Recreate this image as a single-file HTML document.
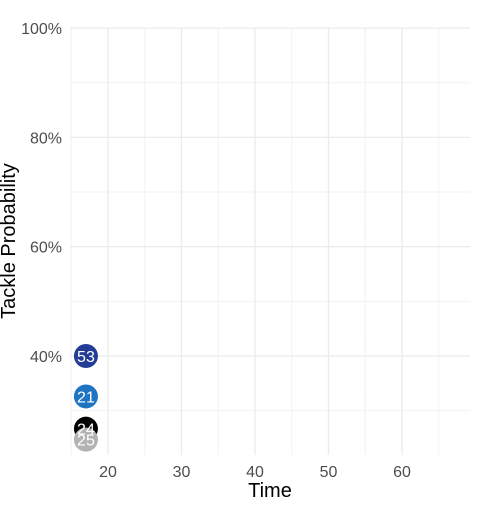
<!DOCTYPE html>
<html><head><meta charset="utf-8"><style>
body{margin:0;background:#fff;font-family:"Liberation Sans",sans-serif}
</style></head><body>
<svg id="c" width="500" height="500" xmlns="http://www.w3.org/2000/svg" font-family="Liberation Sans, sans-serif"></svg>
<script>
const players=["24","25","21","53"];
const times=[17,17,17,17];
const probs=[26.7,24.7,32.6,40];
const colors=["#000000","#b3b3b3","#1f74c1","#233d96"];
const xTicks=[20,30,40,50,60];
const yTicks=[40,60,80,100];
const yLabels=["40%","60%","80%","100%"];
const markerTime=55;
const NS="http://www.w3.org/2000/svg";
const svg=document.getElementById('c');
const L=70,R=470,T=28,B=455;
const xs=v=>108+(v-20)*7.35;
const ys=v=>356-(v-40)*5.465;
function el(t,a,p){const e=document.createElementNS(NS,t);for(const k in a)e.setAttribute(k,a[k]);(p||svg).appendChild(e);return e;}
const grid=el('g',{});


for(let v=15;v<=65;v+=10){el('line',{x1:xs(v),x2:xs(v),y1:T,y2:B,stroke:'#f2f2f2','stroke-width':1},grid);}
for(let v=30;v<=90;v+=20){el('line',{x1:L,x2:R,y1:ys(v),y2:ys(v),stroke:'#f2f2f2','stroke-width':1},grid);}
xTicks.forEach(v=>{el('line',{x1:xs(v),x2:xs(v),y1:T,y2:B,stroke:'#ebebeb','stroke-width':1.3},grid);
 const t=el('text',{x:xs(v),y:477,'text-anchor':'middle','font-size':16,fill:'#4d4d4d'});t.textContent=v;
 });
yTicks.forEach((v,i)=>{el('line',{x1:L,x2:R,y1:ys(v),y2:ys(v),stroke:'#ebebeb','stroke-width':1.3},grid);
 const t=el('text',{x:62,y:ys(v)+6,'text-anchor':'end','font-size':16,fill:'#4d4d4d'});t.textContent=yLabels[i];
 });
const ml=el('line',{x1:xs(markerTime),x2:xs(markerTime),y1:T,y2:B,stroke:'#efefef','stroke-width':1.3,'stroke-dasharray':'2 5'});

players.forEach((p,i)=>{const c=el('circle',{cx:xs(times[i]),cy:ys(probs[i]),r:12,fill:colors[i]});
 });
players.forEach((p,i)=>{const t=el('text',{x:xs(times[i]),y:ys(probs[i])+6,'text-anchor':'middle','font-size':16,fill:'#fff'});t.textContent=p;
 });
const xt=el('text',{x:270,y:497,'text-anchor':'middle','font-size':20,fill:'#000'});xt.textContent='Time';

const yt=el('text',{x:0,y:0,'text-anchor':'middle','font-size':20,fill:'#000',transform:'translate(15,241) rotate(-90)'});yt.textContent='Tackle Probability';

</script>
</body></html>
